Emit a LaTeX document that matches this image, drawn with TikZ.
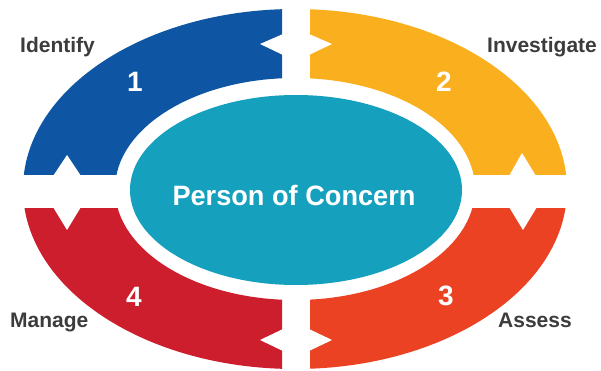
\documentclass[tikz,border=0pt]{standalone}
\usepackage{fontspec}
\setmainfont{Liberation Sans}
\definecolor{cblue}{RGB}{14,86,163}
\definecolor{corange}{RGB}{250,176,30}
\definecolor{cred}{RGB}{205,30,46}
\definecolor{credor}{RGB}{235,66,36}
\definecolor{cteal}{RGB}{21,160,190}
\definecolor{clabel}{RGB}{60,60,60}
\begin{document}
\begin{tikzpicture}[x=1pt,y=-1pt,
  ring/.style={even odd rule},
  notch/.style={fill=white},
  steplabel/.style={text=clabel,font=\fontsize{21}{21}\selectfont\bfseries,inner sep=0pt,anchor=base west},
  stepnum/.style={text=white,font=\fontsize{28}{28}\selectfont\bfseries,inner sep=0pt}]
\useasboundingbox (0,0) rectangle (601,371);
% quadrant segments
\begin{scope}
  \clip (0,0) rectangle (282,175);
  \fill[cblue,ring] (295,189) ellipse [x radius=272, y radius=180] (295,189) ellipse [x radius=180, y radius=111];
\end{scope}
\begin{scope}
  \clip (310,0) rectangle (601,175);
  \fill[corange,ring] (295,189) ellipse [x radius=272, y radius=180] (295,189) ellipse [x radius=180, y radius=111];
\end{scope}
\begin{scope}
  \clip (310,208) rectangle (601,371);
  \fill[credor,ring] (295,189) ellipse [x radius=272, y radius=180] (295,189) ellipse [x radius=180, y radius=111];
\end{scope}
\begin{scope}
  \clip (0,208) rectangle (282,371);
  \fill[cred,ring] (295,189) ellipse [x radius=272, y radius=180] (295,189) ellipse [x radius=180, y radius=111];
\end{scope}
% notches
\fill[notch] (283,34) -- (260,44) -- (283,55) -- cycle;
\fill[notch] (309,34) -- (332,44) -- (309,55) -- cycle;
\fill[notch] (53,176) -- (67,155) -- (81,176) -- cycle;
\fill[notch] (53,207) -- (67,230) -- (81,207) -- cycle;
\fill[notch] (509,176) -- (522,153) -- (536,176) -- cycle;
\fill[notch] (509,207) -- (523,230) -- (537,207) -- cycle;
\fill[notch] (283,329) -- (260,340) -- (283,351) -- cycle;
\fill[notch] (309,329) -- (332,340) -- (309,351) -- cycle;
% centre
\fill[cteal] (296,190) ellipse [x radius=166, y radius=95];
\node[text=white,font=\fontsize{28}{28}\selectfont\bfseries,inner sep=0pt] (center) at (294,195) {\scalebox{0.97}[1]{Person of Concern}};
% numbers
\node[stepnum] (n1) at (135,82) {1};
\node[stepnum] (n2) at (444,82) {2};
\node[stepnum] (n3) at (446,296) {3};
\node[stepnum] (n4) at (134,297) {4};
% labels
\node[steplabel] (l1) at (20,53) {Identify};
\node[steplabel] (l2) at (487,53) {Investigate};
\node[steplabel] (l3) at (498,327) {Assess};
\node[steplabel] (l4) at (10,327) {Manage};
\end{tikzpicture}
\end{document}
